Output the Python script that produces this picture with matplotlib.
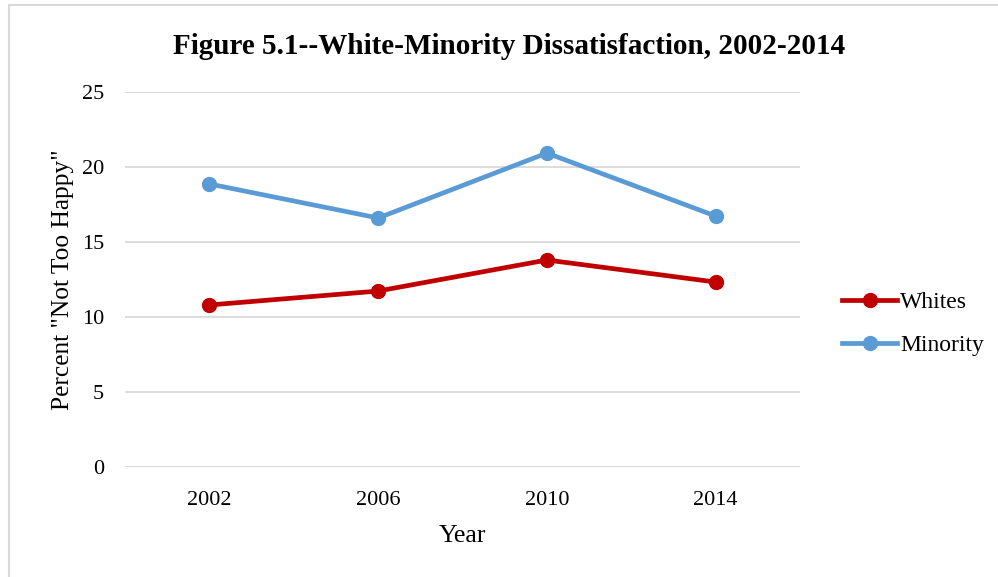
import matplotlib.pyplot as plt
from matplotlib.patches import Rectangle

# --- data ---
years = ['2002', '2006', '2010', '2014']
whites = [10.8, 11.73, 13.8, 12.33]
minority = [18.87, 16.6, 20.93, 16.73]

RED = '#C00000'
BLUE = '#5B9BD5'
GRID = '#D9D9D9'

plt.rcParams['font.family'] = ['Liberation Serif', 'DejaVu Serif']

fig = plt.figure(figsize=(9.98, 5.77), dpi=100)
ax = fig.add_axes([125 / 998, 1 - 467 / 577, 675 / 998, 375 / 577])

x = range(len(years))
ax.plot(x, whites, color=RED, lw=3.4, marker='o', ms=10, label='Whites')
ax.plot(x, minority, color=BLUE, lw=3.4, marker='o', ms=10, label='Minority')

ax.set_xlim(-0.5, len(years) - 0.5)
ax.set_ylim(0, 25)
ax.set_yticks(range(0, 26, 5))
ax.set_xticks(list(x))
ax.set_xticklabels(years)
ax.grid(axis='y', color=GRID, lw=1.3)
ax.set_axisbelow(True)
for s in ax.spines.values():
    s.set_visible(False)
ax.tick_params(length=0, labelsize=16)
ax.tick_params(axis='y', pad=15)
ax.tick_params(axis='x', pad=17)

ax.set_xlabel('Year', fontsize=18.5, labelpad=11)
ax.set_ylabel('Percent "Not Too Happy"', fontsize=18.3, labelpad=6)

fig.text(0.51, 1 - 47 / 577, 'Figure 5.1--White-Minority Dissatisfaction, 2002-2014',
         ha='center', va='center', fontsize=21, fontweight='bold')

ax.legend(loc='center left', bbox_to_anchor=(1.062, 0.382), frameon=False,
          fontsize=17, handlelength=2.35, handletextpad=0.13, labelspacing=0.92,
          borderpad=0, borderaxespad=0)

# chart-area border
fig.patches.append(Rectangle((9 / 998, -0.1), 1.2, 1 - 5 / 577 + 0.1,
                             transform=fig.transFigure, fill=False,
                             edgecolor=GRID, lw=1.5))

fig.savefig('out.png', dpi=100)
